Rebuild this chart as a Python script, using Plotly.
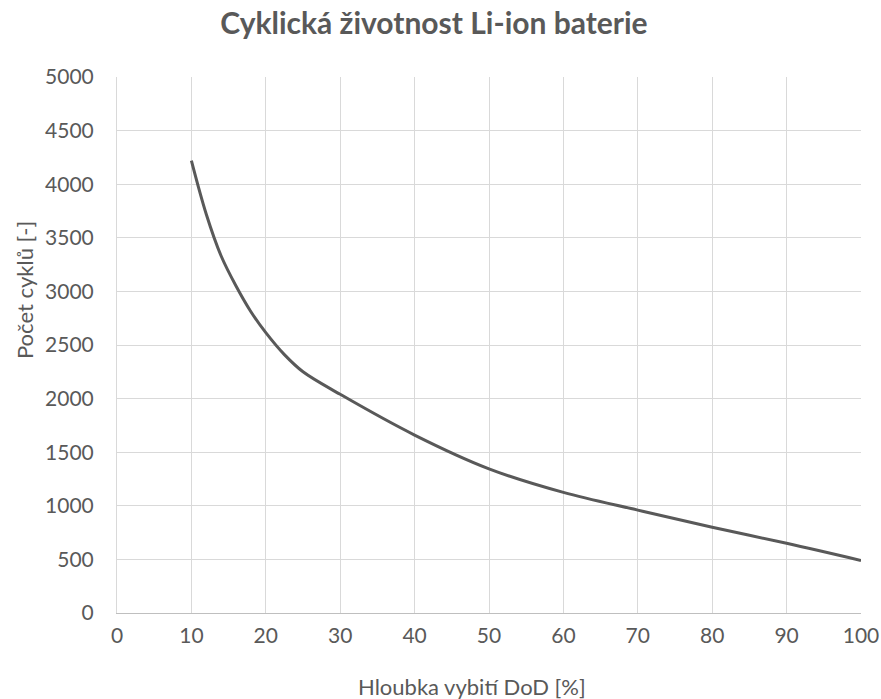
import plotly.graph_objects as go

dod = [10, 12, 14, 16, 18, 20, 22.5, 25, 30, 40, 50, 60, 70, 80, 90, 100]
cycles = [4220, 3720, 3330, 3050, 2810, 2615, 2410, 2250, 2040, 1660, 1345, 1125, 960, 800, 650, 490]

x_ticks = list(range(0, 101, 10))
y_ticks = list(range(0, 5001, 500))

font = "Lato, Open Sans, sans-serif"
grey = "#595959"

fig = go.Figure(go.Scatter(x=dod, y=cycles, mode="lines",
                           line=dict(color=grey, width=3, shape="spline", smoothing=1.0)))

fig.update_layout(
    autosize=False, width=881, height=699,
    margin=dict(l=117, r=20, t=77, b=86),
    plot_bgcolor="white", paper_bgcolor="white",
    showlegend=False,
    title=dict(text="<b>Cyklická životnost Li-ion baterie</b>", x=0.4926, xanchor="center",
               xref="container", yref="container", y=0.9657, yanchor="middle",
               font=dict(family=font, size=30, color=grey)),
    font=dict(family=font, size=21, color=grey),
)
fig.update_xaxes(range=[0, 100], tickvals=x_ticks, showgrid=True, gridcolor="#d9d9d9",
                 zeroline=False, showline=True, linecolor="#bfbfbf", linewidth=1,
                 ticks="", ticklabelstandoff=4, automargin=False)
fig.update_yaxes(range=[0, 5000], tickvals=y_ticks, showgrid=True, gridcolor="#d9d9d9",
                 zeroline=False, showline=True, linecolor="#d9d9d9", ticks="",
                 ticklabelstandoff=18, automargin=False)

fig.add_annotation(text="Hloubka vybití DoD [%]", xref="paper", yref="paper",
                   x=0.477, y=-0.138, showarrow=False, xanchor="center", yanchor="middle",
                   font=dict(family=font, size=22, color=grey))
fig.add_annotation(text="Počet cyklů [-]", xref="paper", yref="paper", textangle=-90,
                   x=-0.125, y=0.6026, showarrow=False, xanchor="center", yanchor="middle",
                   font=dict(family=font, size=22, color=grey))

# drop the default 8px body margin so the figure fills the window exactly
fig.write_html("out.html", config={"displayModeBar": False},
               post_script="document.body.style.margin='0';")
